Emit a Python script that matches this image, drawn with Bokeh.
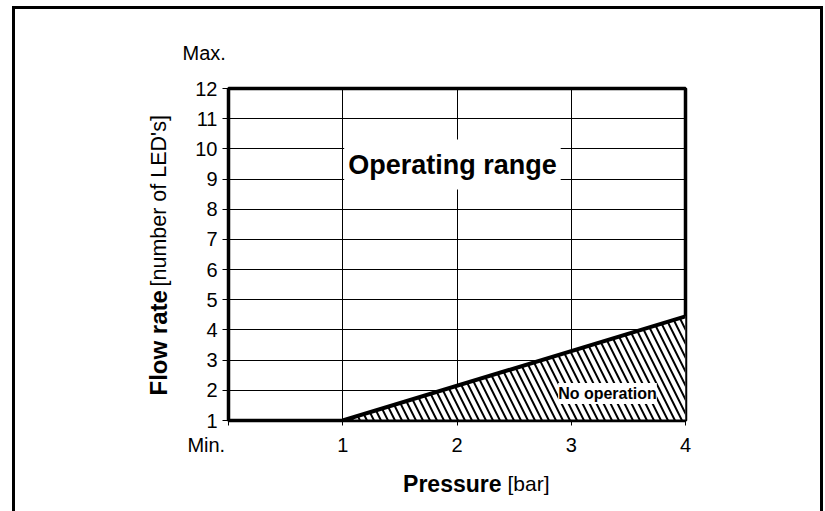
import math
from bokeh.plotting import figure
from bokeh.layouts import row, column
from bokeh.models import Range1d, FixedTicker, Label, Title
from bokeh.embed import file_html
from bokeh.resources import INLINE

# ---- data ----
pressure_ticks = [0, 1, 2, 3, 4]
pressure_labels = {0: "Min." + "\u00a0" * 8, 1: "1", 2: "2", 3: "3", 4: "4"}
flow_ticks = [1, 2, 3, 4, 5, 6, 7, 8, 9, 10, 11, 12]
boundary_pressure = [1.0, 4.0]      # lower limit line of the operating range
boundary_flow = [1.0, 4.45]
no_op_pressure = boundary_pressure + [4.0]
no_op_flow = boundary_flow + [1.0]

FONT = "Liberation Sans"
OX, OY = 15, 9                 # page position of the content box (inside the frame line)
CONTENT_W = 805
LEFT_W = 163
MAIN_W = CONTENT_W - LEFT_W
MID_H = 461
BOT_H = 41
FRAME_L, FRAME_R, FRAME_T, FRAME_B = 228, 685, 88, 420   # plot area on the page


def strip(width, height, **borders):
    f = figure(width=width, height=height, x_range=Range1d(0, 1), y_range=Range1d(0, 1),
               x_axis_location=None, y_axis_location=None, toolbar_location=None,
               output_backend="svg", title_location=None, min_border=0,
               min_border_left=borders.get("left", 0), min_border_right=borders.get("right", 0),
               min_border_top=borders.get("top", 0), min_border_bottom=borders.get("bottom", 0))
    f.outline_line_color = None
    f.background_fill_color = "white"
    f.border_fill_color = "white"
    for g in f.grid:
        g.visible = False
    return f


# ---- main chart ----
p = figure(width=MAIN_W, height=MID_H, x_range=Range1d(0, 4), y_range=Range1d(1, 12),
           output_backend="svg", toolbar_location=None, title_location=None,
           min_border_left=FRAME_L - OX - LEFT_W, min_border_right=OX + CONTENT_W - FRAME_R,
           min_border_top=FRAME_T - OY, min_border_bottom=OY + MID_H - FRAME_B)
p.background_fill_color = "white"
p.border_fill_color = "white"
p.outline_line_color = "black"
p.outline_line_width = 3.5

p.xaxis.ticker = FixedTicker(ticks=pressure_ticks)
p.xaxis.major_label_overrides = pressure_labels
p.yaxis.ticker = FixedTicker(ticks=flow_ticks)
for ax in (p.xaxis[0], p.yaxis[0]):
    ax.axis_line_color = "black"
    ax.axis_line_width = 2
    ax.major_tick_line_color = "black"
    ax.major_tick_line_width = 1
    ax.major_tick_in = 0
    ax.minor_tick_line_color = None
    ax.major_label_text_font = FONT
    ax.major_label_text_font_size = "20px"
    ax.major_label_text_color = "black"
p.xaxis.major_tick_out = 5
p.xaxis.major_label_standoff = 8
p.yaxis.major_tick_out = 6
p.yaxis.major_label_standoff = 5

p.xgrid.ticker = FixedTicker(ticks=pressure_ticks)
p.ygrid.ticker = FixedTicker(ticks=flow_ticks)
p.grid.grid_line_color = "black"
p.grid.grid_line_width = 1

p.patch(x=no_op_pressure, y=no_op_flow, fill_color="white", line_color=None,
        hatch_pattern="\\", hatch_color="black", hatch_weight=2, hatch_scale=14)
p.line(x=boundary_pressure, y=boundary_flow, line_color="black", line_width=4)

p.add_layout(Label(x=1.96, y=9.48, text="Operating range", text_font=FONT, text_color="black",
                   text_font_size="27px", text_font_style="bold", text_align="center",
                   text_baseline="middle", background_fill_color="white", padding=(4, 10)))
p.add_layout(Label(x=3.317, y=1.895, text="No operation", text_font=FONT, text_color="black",
                   text_font_size="16px", text_font_style="bold", text_align="center",
                   text_baseline="middle", background_fill_color="white", padding=(0, 2)))
p.add_layout(Title(text="Max.", align="left", offset=-46, standoff=50, text_font=FONT,
                   text_font_size="20px", text_font_style="normal", text_color="black"),
             "above")

# ---- y axis title (left strip, frame aligned with the plot area) ----
left = strip(LEFT_W, MID_H, top=FRAME_T - OY, bottom=OY + MID_H - FRAME_B)
left.add_layout(Label(x=158 - OX, y=395 - OY, x_units="canvas", y_units="canvas",
                      text="Flow rate", text_font=FONT, text_font_size="24px",
                      text_font_style="bold", text_color="black", text_align="left",
                      text_baseline="middle", angle=math.pi / 2))
left.add_layout(Label(x=158 - OX, y=286 - OY, x_units="canvas", y_units="canvas",
                      text="[number of LED's]", text_font=FONT, text_font_size="21.5px",
                      text_color="black", text_align="left", text_baseline="middle",
                      angle=math.pi / 2))

# ---- x axis title (bottom strip) ----
bottom = strip(CONTENT_W, BOT_H)
BY = OY + MID_H
bottom.add_layout(Label(x=501 - OX, y=483 - BY, x_units="canvas", y_units="canvas",
                        text="Pressure", text_font=FONT, text_font_size="23px",
                        text_font_style="bold", text_color="black", text_align="right",
                        text_baseline="middle"))
bottom.add_layout(Label(x=507 - OX, y=483 - BY, x_units="canvas", y_units="canvas",
                        text="[bar]", text_font=FONT, text_font_size="21px",
                        text_color="black", text_align="left", text_baseline="middle"))

page = column(row(left, p), bottom,
              styles={"margin-left": "12px", "margin-top": "6px",
                      "border-left": "3px solid black", "border-top": "3px solid black",
                      "border-right": "3px solid black"})
open("out.html", "w").write(file_html(page, INLINE))
